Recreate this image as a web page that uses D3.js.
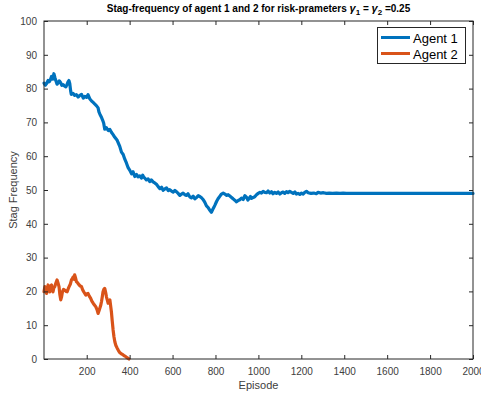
<!DOCTYPE html>
<html>
<head>
<meta charset="utf-8">
<script src="https://cdn.jsdelivr.net/npm/d3@7"></script>
<style>
html,body{margin:0;padding:0;background:#fff;}
svg{display:block;font-family:"Liberation Sans",Arial,Helvetica,sans-serif;}
</style>
</head>
<body>
<svg id="chart" width="481" height="395"></svg>
<script>
// Agent 1 stag frequency (episode, value)
const agent1Episodes = [1,7,13,20,25,30,36,42,47,52,56,62,67,72,78,84,90,96,103,108,113,117,121,125,128,136,144,152,160,168,176,184,191,199,206,214,222,230,238,246,253,257,261,268,274,279,284,292,300,308,315,323,331,342,354,362,370,377,385,393,401,409,416,424,432,439,447,455,461,466,472,478,486,494,501,509,517,525,533,541,549,556,564,572,580,587,595,603,611,618,626,634,642,649,657,665,672,680,688,696,704,712,720,727,735,742,750,758,766,774,781,787,792,798,805,812,820,828,836,844,851,859,867,875,882,890,898,906,913,921,929,937,945,951,957,963,968,976,983,991,999,1007,1014,1022,1030,1038,1045,1053,1061,1068,1076,1084,1092,1100,1108,1115,1123,1131,1138,1146,1154,1162,1170,1177,1185,1193,1201,1209,1216,1224,1232,1245,1258,1270,1278,1290,1303,1317,1330,1345,1364,1380,1395,1410,1430,1450,1475,1504,1530,1555,1581,1620,1700,1800,1900,2000];
const agent1Values   = [81.6,81.0,81.5,82.4,82.0,82.5,83.6,82.8,84.4,83.2,82.4,81.3,81.7,82.3,81.8,81.0,81.2,80.8,80.5,81.2,82.0,82.4,81.5,79.4,78.3,78.6,78.0,78.2,77.5,78.0,78.3,77.2,77.7,77.4,78.2,77.0,76.4,75.9,75.4,74.9,74.3,73.1,72.5,71.6,70.7,69.8,68.0,68.4,67.6,67.9,67.1,66.4,65.6,64.7,62.9,61.2,60.5,59.2,58.0,56.6,55.8,54.8,55.4,54.0,54.6,53.9,54.2,53.5,54.4,53.8,53.4,53.0,53.3,52.5,53.0,52.4,52.1,51.7,51.0,50.4,50.8,49.9,50.3,50.6,49.8,50.1,49.7,49.4,49.9,49.5,49.0,48.4,48.8,49.1,48.6,48.4,48.9,48.0,47.7,48.2,47.4,47.8,48.3,48.1,47.7,47.2,46.4,45.3,44.8,44.0,43.4,44.2,44.8,45.6,46.6,47.4,48.1,48.8,49.1,48.8,48.4,48.6,48.2,47.8,47.4,47.0,46.5,46.9,47.1,47.6,47.2,48.3,47.8,47.0,47.6,48.1,47.5,47.8,48.0,48.6,49.0,49.3,49.1,49.6,49.3,49.2,49.7,49.1,49.5,48.9,49.3,49.0,49.4,48.8,49.2,49.4,49.0,49.5,49.2,49.6,49.3,49.0,49.4,48.8,49.0,48.7,49.1,48.8,49.3,49.6,49.2,49.0,49.1,48.9,49.3,49.1,49.2,49.0,49.1,49.0,49.1,49.0,49.05,49.0,49.0,49.0,49.0,49.0,49.0,49.0,49.0,49.0,49.0,49.0,49.0,49.0];

// Agent 2 stag frequency (episode, value)
const agent2Episodes = [1,5,9,13,17,20,24,28,32,36,40,43,47,51,56,62,66,71,75,79,83,87,92,98,104,109,114,118,124,129,133,137,141,144,148,152,158,165,170,176,181,186,191,196,201,206,212,218,224,230,236,242,248,253,257,261,265,269,273,276,280,284,288,292,296,300,304,308,311,315,319,323,327,331,336,342,348,354,362,370,376,382,388,393,397];
const agent2Values   = [19.9,21.4,20.2,19.4,21.0,21.9,20.4,19.9,21.6,21.9,20.3,19.9,21.1,21.4,22.4,23.4,22.6,21.4,19.0,17.5,18.4,19.9,20.6,20.4,20.0,19.9,20.8,21.4,22.2,23.4,23.8,24.3,23.6,24.9,24.0,22.9,22.5,21.9,21.6,21.4,20.5,19.9,19.4,18.9,19.3,19.4,18.6,18.0,17.1,16.5,16.0,15.5,14.6,13.5,14.2,15.0,15.8,17.0,18.6,19.9,20.6,20.9,19.8,18.4,17.4,16.5,17.0,17.5,16.0,14.0,11.2,8.6,6.6,5.1,4.0,3.2,2.5,1.9,1.5,1.2,0.9,0.7,0.4,0.2,0.0];

const xTicks = [200,400,600,800,1000,1200,1400,1600,1800,2000];
const yTicks = [0,10,20,30,40,50,60,70,80,90,100];
const seriesNames = ["Agent 1","Agent 2"];
const seriesColors = ["#0072BD","#D95319"];

const svg = d3.select("#chart");
const m = {left:44, right:473, top:21, bottom:359};
const x = d3.scaleLinear().domain([1,2000]).range([m.left,m.right]);
const y = d3.scaleLinear().domain([0,100]).range([m.bottom,m.top]);
const axisColor = "#262626";
const tickColor = "#404040";

// lines
const series = [
  agent1Episodes.map((e,i)=>[e,agent1Values[i]]),
  agent2Episodes.map((e,i)=>[e,agent2Values[i]])
];
const line = d3.line().defined(d=>d[1]!=null).x(d=>x(d[0])).y(d=>y(d[1]));
series.forEach((s,i)=>{
  svg.append("path").datum(s).attr("d",line)
    .attr("fill","none").attr("stroke",seriesColors[i])
    .attr("stroke-width",3.2).attr("stroke-linejoin","round").attr("stroke-linecap","round");
});

// axes (ticks inside)
const ax = (g)=>{g.selectAll(".domain").remove(); g.selectAll("line").attr("stroke",axisColor); g.selectAll("text").attr("fill",tickColor).attr("font-size","10px").attr("font-family","'Liberation Sans',Arial,sans-serif");};
svg.append("g").attr("transform",`translate(0,${m.bottom})`)
  .call(d3.axisBottom(x).tickValues(xTicks).tickSize(-4).tickPadding(9).tickFormat(d3.format("d"))).call(ax);
svg.append("g").attr("transform",`translate(0,${m.top})`)
  .call(d3.axisTop(x).tickValues(xTicks).tickSize(-4).tickFormat("")).call(ax);
svg.append("g").attr("transform",`translate(${m.left},0)`)
  .call(d3.axisLeft(y).tickValues(yTicks).tickSize(-4).tickPadding(7).tickFormat(d3.format("d"))).call(ax);
svg.append("g").attr("transform",`translate(${m.right},0)`)
  .call(d3.axisRight(y).tickValues(yTicks).tickSize(-4).tickFormat("")).call(ax);
svg.append("rect").attr("x",m.left).attr("y",m.top).attr("width",m.right-m.left).attr("height",m.bottom-m.top)
  .attr("fill","none").attr("stroke",axisColor).attr("stroke-width",1);

// axis labels
svg.append("text").attr("x",(m.left+m.right)/2).attr("y",389).attr("text-anchor","middle")
  .attr("font-size","11px").attr("fill",tickColor).text("Episode");
svg.append("text").attr("transform",`translate(17,${(m.top+m.bottom)/2}) rotate(-90)`).attr("text-anchor","middle")
  .attr("font-size","11px").attr("fill",tickColor).text("Stag Frequency");

// title
const t = svg.append("text").attr("x",(m.left+m.right)/2).attr("y",12).attr("text-anchor","middle")
  .attr("font-size","10px").attr("font-weight","bold").attr("fill","#000");
t.append("tspan").text("Stag-frequency of agent 1 and 2 for risk-prameters  ");
t.append("tspan").attr("font-style","italic").attr("font-size","11px").text("γ");
t.append("tspan").attr("dy",3).attr("font-size","8px").text("1");
t.append("tspan").attr("dy",-3).text(" = ");
t.append("tspan").attr("font-style","italic").attr("font-size","11px").text("γ");
t.append("tspan").attr("dy",3).attr("font-size","8px").text("2");
t.append("tspan").attr("dy",-3).text(" =0.25");

// legend
const lg = svg.append("g");
lg.append("rect").attr("x",377.5).attr("y",27.5).attr("width",88).attr("height",36)
  .attr("fill","#fff").attr("stroke",axisColor).attr("stroke-width",1);
seriesNames.forEach((n,i)=>{
  const yy = 37.5 + i*16;
  lg.append("line").attr("x1",381).attr("x2",410).attr("y1",yy).attr("y2",yy)
    .attr("stroke",seriesColors[i]).attr("stroke-width",3);
  lg.append("text").attr("x",413).attr("y",yy+5).attr("font-size","13px").attr("fill","#000").text(n);
});
</script>
</body>
</html>
